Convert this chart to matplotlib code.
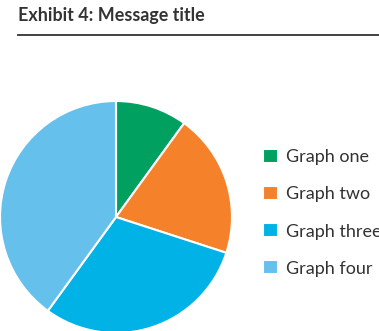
import matplotlib
matplotlib.use("Agg")
import matplotlib.pyplot as plt
from matplotlib.lines import Line2D

TITLE = "Exhibit 4: Message title"
LABELS = ["Graph one", "Graph two", "Graph three", "Graph four"]
VALUES = [10, 20, 30, 40]
COLORS = ["#00a160", "#f5822a", "#00b2e6", "#66c0ec"]

W, H = 379, 331

plt.rcParams["font.family"] = ["Lato", "DejaVu Sans"]

fig = plt.figure(figsize=(W / 100, H / 100), dpi=100)

# title and rule
fig.text(18 / W, 1 - 16 / H, TITLE, fontsize=12.9, fontweight="bold",
         color="#333333", va="center", ha="left")
fig.add_artist(Line2D([18 / W, 1.0], [1 - 35 / H, 1 - 35 / H],
                      color="#333333", linewidth=1.3, transform=fig.transFigure))

# pie
ax = fig.add_axes([0, -2 / H, 232 / W, 232 / H])
wedges, _ = ax.pie(VALUES, colors=COLORS, startangle=90, counterclock=False,
                   wedgeprops=dict(edgecolor="white", linewidth=1.5))
ax.set_xlim(-1.0, 1.0)
ax.set_ylim(-1.0, 1.0)
ax.set_aspect("equal")
ax.axis("off")

# legend runs past the right edge, as in the original exhibit
fig.legend(wedges, LABELS, loc="upper left", bbox_to_anchor=(263 / W, 1 - 149 / H),
           frameon=False, fontsize=13, handlelength=0.83, handleheight=0.83,
           handletextpad=0.45, labelspacing=1.15, borderpad=0, borderaxespad=0,
           labelcolor="#333333")

fig.savefig("out.png", dpi=100)
